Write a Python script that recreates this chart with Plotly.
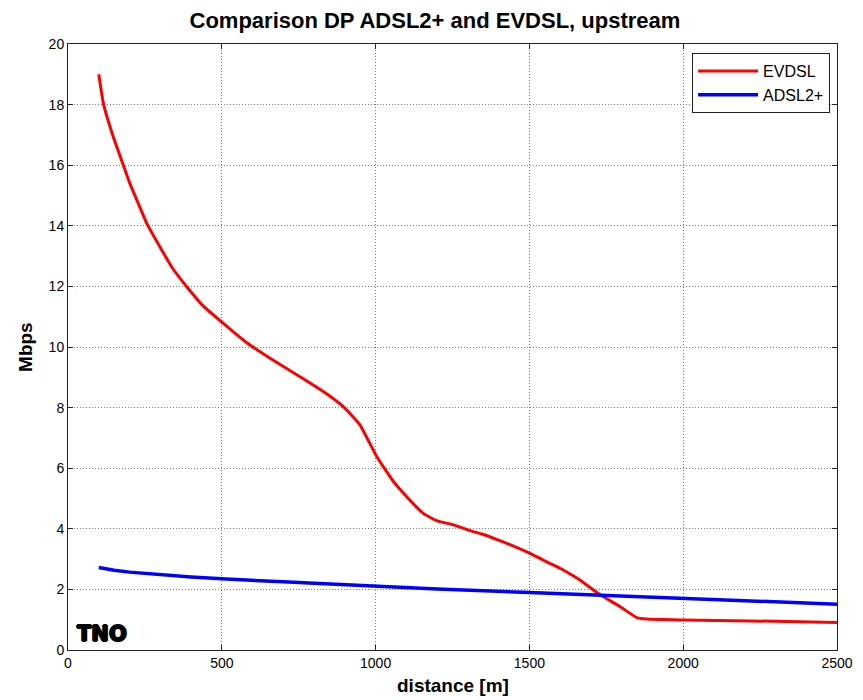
import plotly.graph_objects as go

evdsl_d = [100, 115, 147, 180, 201, 230, 256, 299, 340, 386, 440, 505, 580, 657, 754, 830, 895, 949, 1004, 1058, 1101,
           1155, 1198, 1253, 1307, 1345, 1404, 1458, 1502, 1556, 1610, 1664, 1730, 1795, 1849, 1881,
           2000, 2217, 2500]
evdsl_v = [19.0, 18.04, 16.94, 16.0, 15.4, 14.7, 14.08, 13.3, 12.6, 11.99, 11.35, 10.78, 10.15, 9.63, 9.02, 8.53, 8.03, 7.43,
           6.38, 5.56, 5.06, 4.51, 4.27, 4.13, 3.94, 3.83, 3.61, 3.39, 3.19, 2.91, 2.64, 2.31, 1.82,
           1.43, 1.07, 1.02, 0.99, 0.96, 0.91]

adsl_d = [100, 150, 200, 300, 400, 500, 600, 700, 800, 1000, 1200, 1500, 1750, 2000, 2250, 2500]
adsl_v = [2.72, 2.63, 2.57, 2.48, 2.41, 2.35, 2.29, 2.25, 2.2, 2.1, 2.01, 1.9, 1.8, 1.71, 1.61, 1.51]

x_ticks = [0, 500, 1000, 1500, 2000, 2500]
y_ticks = [0, 2, 4, 6, 8, 10, 12, 14, 16, 18, 20]

font = "Liberation Sans, Arial, sans-serif"

fig = go.Figure()
fig.add_trace(go.Scatter(x=evdsl_d, y=evdsl_v, mode="lines", name="EVDSL",
                         line=dict(color="#ff0000", width=3, shape="spline", smoothing=0.4)))
fig.add_trace(go.Scatter(x=adsl_d, y=adsl_v, mode="lines", name="ADSL2+",
                         line=dict(color="#0000ff", width=3.5)))

axis_common = dict(showline=True, linecolor="#222", linewidth=1, mirror="allticks",
                   ticks="inside", ticklen=5, tickcolor="#222",
                   showgrid=True, gridcolor="#777", griddash="1px,2px", gridwidth=1,
                   zeroline=False, automargin=False,
                   tickfont=dict(family=font, size=14, color="#000"))

fig.update_xaxes(range=[0, 2500], tickvals=x_ticks, **axis_common)
fig.update_yaxes(range=[0, 20], tickvals=y_ticks, **axis_common)

fig.add_annotation(text="<b>distance [m]</b>", xref="paper", yref="paper", x=0.5, y=-0.058,
                   xanchor="center", yanchor="middle", showarrow=False,
                   font=dict(family=font, size=19, color="#000"))
fig.add_annotation(text="<b>Mbps</b>", xref="paper", yref="paper", x=-0.056, y=0.5,
                   xanchor="center", yanchor="middle", showarrow=False, textangle=-90,
                   font=dict(family=font, size=19, color="#000"))

fig.add_annotation(text="<b>TNO</b>", xref="paper", yref="paper", x=0.009, y=0.003,
                   xanchor="left", yanchor="bottom", showarrow=False,
                   font=dict(family="DejaVu Sans, sans-serif", size=21, color="#000",
                             shadow="1px 0 0 #000, -1px 0 0 #000, 0 1px 0 #000, 0 -1px 0 #000"))

fig.update_layout(
    width=863, height=700,
    margin=dict(l=68, r=26, t=44, b=50),
    paper_bgcolor="white", plot_bgcolor="white",
    title=dict(text="<b>Comparison DP ADSL2+ and EVDSL, upstream</b>", x=0.504, xanchor="center",
               y=0.971, yanchor="middle", font=dict(family=font, size=22, color="#000")),
    legend=dict(x=0.991, y=0.985, xanchor="right", yanchor="top",
                bgcolor="white", bordercolor="#222", borderwidth=1,
                font=dict(family=font, size=16, color="#000"),
                tracegroupgap=0, itemwidth=60),
    showlegend=True,
)

fig.write_html("out.html")
